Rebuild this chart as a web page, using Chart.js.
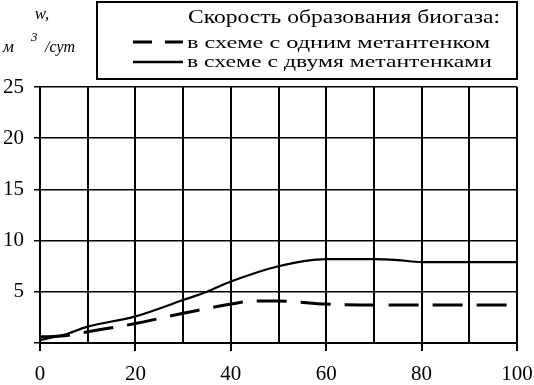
<!DOCTYPE html>
<html>
<head>
<meta charset="utf-8">
<script src="https://cdn.jsdelivr.net/npm/chart.js@4"></script>
<style>
  html, body { margin: 0; padding: 0; background: #fff; }
  #wrap { width: 534px; height: 385px; }
</style>
</head>
<body>
<div id="wrap"><canvas id="chart" width="534" height="385"></canvas></div>
<script>
// Data
const xOne = [0, 5, 10, 20, 30, 40, 45, 50, 60, 70, 80, 90, 100];
const yOne = [0.6, 0.7, 1.1, 1.9, 2.9, 3.8, 4.1, 4.1, 3.8, 3.7, 3.7, 3.7, 3.7];
const xTwo = [0, 5, 10, 20, 30, 35, 40, 50, 60, 70, 75, 80, 90, 100];
const yTwo = [0.3, 0.8, 1.6, 2.6, 4.2, 5.0, 6.0, 7.5, 8.2, 8.2, 8.1, 7.9, 7.9, 7.9];
const xLabels = [0, 20, 40, 60, 80, 100];
const yLabels = [5, 10, 15, 20, 25];
const legendTitle = "Скорость образования биогаза:";
const seriesNames = ["в схеме с одним метантенком", "в схеме с двумя метантенками"];

const SERIF = "'Liberation Serif', 'Times New Roman', serif";

// Draw text stretched horizontally to a given width
function stretchText(ctx, text, x, y, width) {
    const w = ctx.measureText(text).width;
    ctx.save();
    ctx.translate(x, y);
    ctx.scale(width / w, 1);
    ctx.fillText(text, 0, 0);
    ctx.restore();
}

const decorPlugin = {
    id: "decor",
    afterDraw(chart) {
        const ctx = chart.ctx;
        ctx.save();
        ctx.fillStyle = "#000";
        ctx.strokeStyle = "#000";

        // Legend box
        ctx.lineWidth = 2;
        ctx.strokeRect(97, 2, 420, 77);
        ctx.textBaseline = "alphabetic";
        ctx.textAlign = "left";
        ctx.font = "19px " + SERIF;
        stretchText(ctx, legendTitle, 188, 23, 312);
        ctx.font = "17px " + SERIF;
        stretchText(ctx, seriesNames[0], 187, 48, 303);
        stretchText(ctx, seriesNames[1], 187, 67, 305);

        ctx.lineWidth = 3;
        ctx.setLineDash([19, 13]);
        ctx.beginPath();
        ctx.moveTo(133, 42);
        ctx.lineTo(183, 42);
        ctx.stroke();
        ctx.setLineDash([]);
        ctx.lineWidth = 2.5;
        ctx.beginPath();
        ctx.moveTo(133, 62);
        ctx.lineTo(183, 62);
        ctx.stroke();

        // Y axis title
        ctx.font = "italic 17px " + SERIF;
        ctx.textAlign = "center";
        ctx.fillText("w,", 42, 19);
        ctx.textAlign = "left";
        ctx.fillText("м", 3, 52);
        ctx.font = "italic 13px " + SERIF;
        ctx.fillText("3", 31, 41);
        ctx.font = "italic 17px " + SERIF;
        stretchText(ctx, "/сут", 45, 52, 30);
        ctx.restore();
    }
};

new Chart(document.getElementById("chart").getContext("2d"), {
    type: "line",
    data: {
        datasets: [
            {
                label: seriesNames[0],
                data: xOne.map((x, i) => ({ x: x, y: yOne[i] })),
                borderColor: "#000",
                borderWidth: 3,
                borderDash: [30, 14],
                pointRadius: 0,
                cubicInterpolationMode: "monotone",
                fill: false,
            },
            {
                label: seriesNames[1],
                data: xTwo.map((x, i) => ({ x: x, y: yTwo[i] })),
                borderColor: "#000",
                borderWidth: 2.2,
                pointRadius: 0,
                cubicInterpolationMode: "monotone",
                fill: false,
            },
        ],
    },
    options: {
        responsive: false,
        animation: false,
        layout: { padding: { top: 87, right: 0, left: 0, bottom: 0 } },
        plugins: {
            legend: { display: false },
            tooltip: { enabled: false },
        },
        scales: {
            x: {
                type: "linear",
                min: 0,
                max: 100,
                afterFit(scale) {
                    scale.height = 42;
                    scale.paddingRight = 17;
                },
                border: { display: true, color: "#000", width: 2 },
                grid: {
                    color: "#000",
                    lineWidth: 2,
                    tickLength: 8,
                    tickColor: ctx => (xLabels.includes(ctx.tick && ctx.tick.value) ? "#000" : "rgba(0,0,0,0)"),
                },
                ticks: {
                    stepSize: 10,
                    maxRotation: 0,
                    autoSkip: false,
                    padding: 11,
                    color: "#000",
                    font: { family: SERIF, size: 21 },
                    callback: v => (xLabels.includes(v) ? String(v) : ""),
                },
            },
            y: {
                min: 0,
                max: 25,
                afterFit(scale) { scale.width = 40; },
                border: { display: true, color: "#000", width: 2 },
                grid: {
                    color: "#000",
                    lineWidth: 1.5,
                    tickLength: 6,
                },
                ticks: {
                    stepSize: 5,
                    padding: 10,
                    color: "#000",
                    font: { family: SERIF, size: 21 },
                    callback: v => (yLabels.includes(v) ? String(v) : ""),
                },
            },
        },
    },
    plugins: [decorPlugin],
});
</script>
</body>
</html>
